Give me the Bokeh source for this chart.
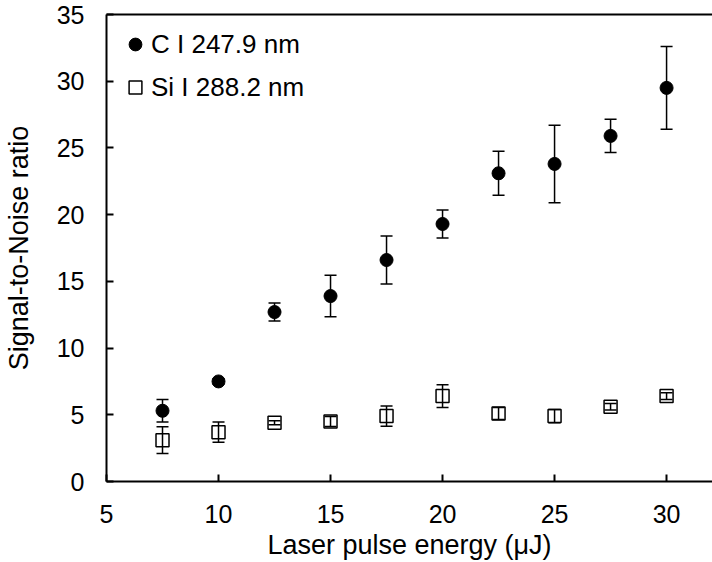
from bokeh.plotting import figure
from bokeh.models import (Whisker, ColumnDataSource, LinearAxis, FixedTicker,
                          Legend, LegendItem, Range1d, TeeHead)
from bokeh.embed import file_html
from bokeh.resources import INLINE

energy = [7.5, 10, 12.5, 15, 17.5, 20, 22.5, 25, 27.5, 30]
c_snr = [5.3, 7.5, 12.7, 13.9, 16.6, 19.3, 23.1, 23.8, 25.9, 29.5]
c_err = [0.85, 0.2, 0.67, 1.55, 1.8, 1.05, 1.65, 2.9, 1.25, 3.1]
si_snr = [3.1, 3.7, 4.4, 4.5, 4.9, 6.4, 5.1, 4.9, 5.6, 6.4]
si_err = [1.0, 0.75, 0.15, 0.37, 0.75, 0.85, 0.45, 0.5, 0.25, 0.25]
x_ticks = [5, 10, 15, 20, 25, 30]
y_ticks = [0, 5, 10, 15, 20, 25, 30, 35]

FONT = "Liberation Sans"

c_src = ColumnDataSource(dict(x=energy, y=c_snr,
                              lo=[v - e for v, e in zip(c_snr, c_err)],
                              hi=[v + e for v, e in zip(c_snr, c_err)]))
si_src = ColumnDataSource(dict(x=energy, y=si_snr,
                               lo=[v - e for v, e in zip(si_snr, si_err)],
                               hi=[v + e for v, e in zip(si_snr, si_err)]))

p = figure(width=712, height=562, x_range=Range1d(5, 32.05), y_range=Range1d(0, 35),
           output_backend="svg", toolbar_location=None,
           min_border_left=105, min_border_right=0, min_border_top=14, min_border_bottom=81)
p.outline_line_color = None
p.grid.visible = False
p.background_fill_color = "white"
p.border_fill_color = "white"

for src in (c_src, si_src):
    w = Whisker(source=src, base="x", upper="hi", lower="lo", dimension="height",
                line_color="black", line_width=1.5,
                upper_head=TeeHead(size=12, line_color="black", line_width=1.5),
                lower_head=TeeHead(size=12, line_color="black", line_width=1.5))
    p.add_layout(w)

r_c = p.scatter("x", "y", source=c_src, marker="circle", size=13,
                fill_color="black", line_color="black")
r_si = p.scatter("x", "y", source=si_src, marker="square", size=13,
                 fill_alpha=0, line_color="black", line_width=1.5)

for ax in (p.xaxis[0], p.yaxis[0]):
    ax.axis_line_width = 2
    ax.axis_line_color = "black"
    ax.major_tick_in = 7
    ax.major_tick_out = 0
    ax.major_tick_line_width = 2
    ax.major_tick_line_color = "black"
    ax.minor_tick_in = 0
    ax.minor_tick_out = 0
    ax.major_label_text_font = FONT
    ax.major_label_text_font_size = "25px"
    ax.major_label_text_color = "black"
    ax.axis_label_text_font = FONT
    ax.axis_label_text_font_size = "27px"
    ax.axis_label_text_font_style = "normal"
    ax.axis_label_text_color = "black"

p.xaxis[0].ticker = FixedTicker(ticks=x_ticks)
p.yaxis[0].ticker = FixedTicker(ticks=y_ticks)
p.xaxis[0].axis_label = "Laser pulse energy (\u03bcJ)"
p.yaxis[0].axis_label = "Signal-to-Noise ratio"
p.xaxis[0].major_label_standoff = 23
p.xaxis[0].axis_label_standoff = 4
p.yaxis[0].major_label_standoff = 22
p.yaxis[0].axis_label_standoff = 20

top = LinearAxis(ticker=FixedTicker(ticks=[]), axis_line_width=2, axis_line_color="black",
                 major_tick_in=0, major_tick_out=0, minor_tick_in=0, minor_tick_out=0,
                 major_label_text_font_size="0px")
p.add_layout(top, "above")

legend = Legend(items=[LegendItem(label="C I 247.9 nm", renderers=[r_c]),
                       LegendItem(label="Si I 288.2 nm", renderers=[r_si])],
                location=(13, 378), margin=0, padding=0, spacing=11,
                glyph_width=32, glyph_height=32, label_standoff=-5,
                label_text_font=FONT, label_text_font_size="26px",
                label_text_color="black",
                background_fill_alpha=0, border_line_color=None)
p.add_layout(legend)

open("out.html", "w").write(file_html(p, INLINE))
